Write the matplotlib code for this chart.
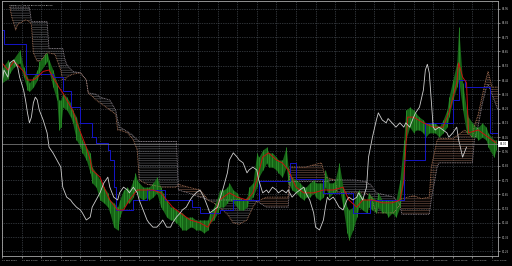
import matplotlib
matplotlib.use("Agg")
import matplotlib.pyplot as plt
import numpy as np

plt.rcParams['hatch.linewidth'] = 0.45

# ---------------- data (hourly bar index, price) ----------------
price_bar = [0,3,4,6,9,11,13,14,16,18,
             19,22,23,24,26,28,29,30,31,33,
             35,36,38,40,41,43,45,46,48,50,
             52,54,55,57,59,60,62,64,65,67,
             68,69,70,72,74,75,77,79,81,82,
             84,86,87,89,91,92,94,96,97,99,
             101,103,105,106,108,110,111,113,115,116,
             118,120,121,123,125,126,128,130,131,133,
             135,136,138,140,141,143,145,146,148,150,
             152,154,155,157,159,160,162,164,165,167,
             169,170,172,174,176,177,179,181,182,184,
             186,187,189,191,192,194,196,197,199,201,
             203,205,206,208,210,211,213,215,216,218,
             220,221,223,225,227,228,230,232,233,235,
             237,238,240,242,243,245,247,248,251,252]
price_high = [82.53,82.59,82.57,82.60,82.66,82.54,82.47,82.43,82.47,82.52,
              82.58,82.63,82.64,82.59,82.52,82.43,82.31,82.31,82.36,82.33,
              82.29,82.24,82.19,82.08,82.03,81.98,81.94,81.84,81.80,81.75,
              81.70,81.66,81.61,81.59,81.56,81.61,81.68,81.70,81.68,81.75,
              81.80,81.75,81.73,81.70,81.70,81.70,81.73,81.77,81.70,81.66,
              81.61,81.56,81.56,81.54,81.52,81.52,81.49,81.49,81.49,81.47,
              81.47,81.47,81.47,81.52,81.56,81.63,81.68,81.68,81.70,81.73,
              81.68,81.66,81.63,81.61,81.63,81.70,81.73,81.94,81.91,81.96,
              81.98,81.94,81.94,81.91,81.89,81.89,81.98,81.84,81.77,81.75,
              81.73,81.70,81.70,81.73,81.75,81.73,81.73,81.73,81.82,81.73,
              81.73,81.75,81.87,81.70,81.56,81.54,81.56,81.66,81.68,81.63,
              81.61,81.66,81.63,81.61,81.66,81.61,81.61,81.61,81.61,81.61,
              81.75,82.03,82.24,82.26,82.24,82.22,82.19,82.17,82.15,82.15,
              82.15,82.15,82.12,82.17,82.24,82.33,82.45,82.57,82.82,82.43,
              82.24,82.19,82.15,82.12,82.12,82.15,82.12,82.08,82.03,82.03]
price_low = [82.43,82.46,82.50,82.54,82.57,82.47,82.38,82.37,82.40,82.45,
             82.50,82.56,82.58,82.51,82.40,82.31,82.10,82.12,82.26,82.24,
             82.19,82.15,82.03,81.98,81.94,81.89,81.80,81.73,81.70,81.61,
             81.59,81.56,81.52,81.42,81.40,81.49,81.56,81.59,81.59,81.63,
             81.68,81.66,81.63,81.61,81.63,81.61,81.63,81.66,81.56,81.54,
             81.49,81.47,81.47,81.45,81.42,81.40,81.40,81.42,81.42,81.40,
             81.40,81.38,81.40,81.45,81.47,81.52,81.56,81.56,81.59,81.61,
             81.59,81.56,81.54,81.54,81.56,81.61,81.63,81.70,81.77,81.82,
             81.87,81.84,81.84,81.82,81.80,81.77,81.84,81.73,81.68,81.66,
             81.63,81.61,81.63,81.63,81.66,81.63,81.61,81.63,81.70,81.63,
             81.66,81.66,81.70,81.56,81.38,81.33,81.40,81.49,81.56,81.54,
             81.52,81.56,81.54,81.52,81.56,81.52,81.52,81.49,81.52,81.49,
             81.56,81.75,82.03,82.12,82.08,82.10,82.10,82.08,82.05,82.08,
             82.08,82.08,82.05,82.08,82.12,82.19,82.31,82.40,82.45,82.24,
             82.08,82.08,82.05,82.05,82.03,82.05,82.03,81.98,81.91,81.96]

tenkan_bar = [0,3,6,9,11,13,16,18,21,24,26,29,31,33,36,39,41,43,45,46,
              50,52,55,59,62,65,69,72,77,81,84,87,91,96,101,105,108,111,116,120,
              125,128,130,133,136,140,143,146,150,154,159,164,169,174,177,181,184,189,194,199,
              203,205,206,207,210,215,220,225,228,232,233,235,237,238,243,248,252]
tenkan = [82.57,82.52,82.58,82.54,82.51,82.45,82.45,82.47,82.51,82.52,
          82.47,82.40,82.36,82.31,82.24,82.12,82.05,81.98,81.89,81.82,
          81.77,81.70,81.61,81.54,81.54,81.61,81.68,81.68,81.68,81.66,
          81.61,81.56,81.52,81.47,81.45,81.42,81.49,81.61,81.66,81.63,
          81.61,81.66,81.75,81.91,81.94,81.89,81.87,81.82,81.70,81.66,
          81.66,81.68,81.68,81.70,81.61,81.56,81.61,81.61,81.59,81.59,
          81.61,81.75,81.98,82.19,82.19,82.15,82.12,82.12,82.22,82.43,
          82.57,82.47,82.43,82.08,82.10,82.05,82.01]

kijun_bar = [0,1,12,26,31,35,40,46,48,54,
             55,57,58,67,74,83,97,101,111,118,
             131,147,150,164,179,188,205,216,230,233,
             236,249,253]
kijun = [82.80,82.70,82.49,82.47,82.37,82.26,82.15,82.05,82.01,81.96,
         81.89,81.70,81.54,81.61,81.68,81.61,81.56,81.52,81.54,81.61,
         81.74,81.87,81.76,81.66,81.52,81.61,81.89,82.15,82.31,82.45,
         82.40,82.08,82.03]

chikou_bar = [0,1,3,4,6,8,9,11,12,13, 14,15,16,17,18,19,21,23,24,26,
              28,30,31,33,35,36,38,40,41,43, 45,46,48,50,52,54,55,57,59,60,
              62,64,65,67,69,70,72,74,75,77, 79,81,82,84,86,87,89,91,92,94,
              96,97,99,101,103,105,106,108,110,111, 113,115,116,118,120,121,123,125,126,128,
              130,131,133,135,136,138,140,141,143,145, 146,148,150,152,154,155,157,159,160,162,
              164,165,166,167,169,170,172,174,176,177, 179,181,182,184,186,187,189,191,192,194,
              196,197,199,201,203,205,206,208,210,211, 213,215,216,217,218,219,220,221,223,225,
              227,228,230,232,233,235,237]
chikou = [82.43,82.52,82.47,82.57,82.59,82.54,82.47,82.38,82.31,82.22,
          82.15,82.19,82.29,82.33,82.31,82.24,82.17,82.08,81.98,81.94,
          81.89,81.84,81.70,81.63,81.61,81.59,81.56,81.54,81.52,81.47,
          81.49,81.56,81.61,81.66,81.73,81.77,81.70,81.63,81.61,81.66,
          81.70,81.68,81.66,81.70,81.66,81.61,81.54,81.47,81.45,81.42,
          81.42,81.45,81.47,81.42,81.42,81.45,81.49,81.52,81.54,81.56,
          81.61,81.63,81.66,81.68,81.63,81.56,81.52,81.54,81.56,81.61,
          81.70,81.80,81.89,81.94,81.91,81.89,81.87,81.80,81.82,81.84,
          81.82,81.75,81.66,81.68,81.66,81.70,81.68,81.66,81.68,81.66,
          81.68,81.63,81.66,81.68,81.70,81.66,81.61,81.52,81.42,81.40,
          81.47,81.56,81.63,81.61,81.63,81.61,81.56,81.54,81.61,81.63,
          81.61,81.63,81.66,81.61,81.70,81.91,82.05,82.17,82.22,82.17,
          82.15,82.18,82.15,82.12,82.15,82.12,82.15,82.12,82.19,82.22,
          82.26,82.38,82.52,82.56,82.50,82.31,82.12,82.10,82.12,82.10,
          82.08,82.05,82.08,82.12,82.03,81.91,81.98]

cloud_bar = [4,5,7,8,12,14,15,16,18,20, 23,24,27,30,31,32,33,36,40,43,
             44,48,50,55,58,59,60,64,67,69, 70,74,82,89,90,95,101,104,105,108,
             111,115,118,121,125,128,130,135,140,146, 147,155,160,163,165,170,171,180,185,188,
             191,200,203,204,210,214,218,219,222,223, 230,236,240,241,243,245,247,248,250,253]
span_a = [82.96,82.89,82.80,82.84,82.87,82.86,82.84,82.64,82.58,82.59,
          82.64,82.64,82.63,82.52,82.45,82.45,82.47,82.49,82.50,82.45,
          82.36,82.31,82.29,82.24,82.21,82.10,82.10,82.08,82.03,81.96,
          81.75,81.72,81.70,81.70,81.72,81.70,81.68,81.63,81.61,81.59,
          81.56,81.51,81.45,81.44,81.47,81.56,81.60,81.63,81.63,81.63,
          81.84,81.84,81.86,81.87,81.77,81.75,81.66,81.66,81.66,81.64,
          81.52,81.52,81.58,81.62,81.64,81.62,81.63,81.84,82.03,82.04,
          82.04,82.10,82.05,82.13,82.21,82.34,82.46,82.51,82.40,82.40]
span_b = [82.96,82.96,82.96,82.96,82.96,82.96,82.86,82.86,82.86,82.86,
          82.86,82.67,82.67,82.67,82.67,82.60,82.56,82.51,82.50,82.45,
          82.36,82.35,82.33,82.31,82.24,82.17,82.12,82.09,82.06,82.03,
          82.02,82.02,82.02,82.02,81.68,81.66,81.63,81.62,81.61,81.61,
          81.61,81.61,81.61,81.61,81.61,81.61,81.60,81.56,81.56,81.56,
          81.74,81.74,81.74,81.74,81.74,81.75,81.75,81.75,81.74,81.72,
          81.66,81.63,81.58,81.51,81.51,81.51,81.51,81.61,81.84,81.87,
          81.87,81.87,81.87,82.03,82.13,82.28,82.39,82.42,82.35,82.24]

price_ticks = [82.95, 82.85, 82.75, 82.65, 82.55, 82.45, 82.35, 82.25, 82.15,
               82.05, 81.95, 81.85, 81.75, 81.65, 81.55, 81.45, 81.35, 81.25]
time_tick_bars = list(range(0, 251, 10))
time_labels = ["21 Feb 2013", "21 Feb 14:00", "22 Feb 00:00", "22 Feb 10:00", "22 Feb 20:00",
               "25 Feb 06:00", "25 Feb 16:00", "26 Feb 02:00", "26 Feb 12:00", "26 Feb 22:00",
               "27 Feb 08:00", "27 Feb 18:00", "28 Feb 04:00", "28 Feb 14:00", "1 Mar 00:00",
               "1 Mar 10:00", "1 Mar 20:00", "4 Mar 06:00", "4 Mar 16:00", "5 Mar 02:00",
               "5 Mar 12:00", "5 Mar 22:00", "6 Mar 08:00", "6 Mar 18:00", "7 Mar 04:00",
               "7 Mar 14:00"]
bid_price = 82.00
title_text = "USDJPY,H1  82.03 82.04 81.99 82.00"

# ---------------- figure ----------------
fig = plt.figure(figsize=(5.12, 2.66), dpi=100, facecolor="black")
ax = fig.add_axes([2/512, 10/266, 496/512, 255/266])
ax.set_facecolor("black")
ax.set_xlim(0, 253.06)
ax.set_ylim(81.218, 83.003)

ax.set_axisbelow(True)
ax.grid(True, color="#5a616a", linestyle=(0, (1, 1.5)), linewidth=0.5)

# cloud
cb = np.array(cloud_bar, float)
sa = np.array(span_a)
sb = np.array(span_b)
ax.fill_between(cb, sa, sb, where=sa >= sb, interpolate=True, facecolor="none",
                edgecolor=(0.60, 0.42, 0.34, 0.75), hatch="-------", linewidth=0)
ax.fill_between(cb, sa, sb, where=sa < sb, interpolate=True, facecolor="none",
                edgecolor=(0.58, 0.58, 0.60, 0.6), hatch="-------", linewidth=0)
ax.plot(cb, sa, color="#b87c5c", lw=0.6, linestyle=(0, (1, 1)))
ax.plot(cb, sb, color="#9c929c", lw=0.6, linestyle=(0, (1, 1)))

# price bars
pb = np.array(price_bar, float)
ax.fill_between(pb, price_low, price_high, color="#176617", linewidth=0)
ax.vlines(pb, price_low, price_high, color="#2a8f2a", linewidth=0.6)

# indicator lines
ax.plot(kijun_bar, kijun, color="#1414c8", lw=0.7, drawstyle="steps-post")
ax.plot(tenkan_bar, tenkan, color="#c81010", lw=0.7)
ax.plot(chikou_bar, chikou, color="#cfcfcf", lw=0.6)

# bid line
ax.axhline(bid_price, color="#8a8a8a", lw=0.5)

# axes styling
for s in ax.spines.values():
    s.set_color("#a8a8a8")
    s.set_linewidth(0.6)
ax.yaxis.tick_right()
ax.set_yticks(price_ticks)
ax.set_yticklabels([f"{v:.2f}" for v in price_ticks])
ax.set_xticks(time_tick_bars)
ax.set_xticklabels(time_labels)
ax.tick_params(axis="y", colors="#d0d0d0", labelsize=1.8, length=1.5, width=0.4, pad=1)
ax.tick_params(axis="x", colors="#d0d0d0", labelsize=1.7, length=1.5, width=0.4, pad=1.2)
for lab in ax.get_xticklabels():
    lab.set_horizontalalignment("left")

ax.text(1.003, bid_price, f"{bid_price:.2f}", transform=ax.get_yaxis_transform(),
        fontsize=1.8, color="black", va="center", ha="left",
        bbox=dict(facecolor="white", edgecolor="none", pad=0.8))

fig.text(9/512, 1 - 5/266, title_text, fontsize=1.7, color="white", va="center", ha="left")

fig.savefig("out.png", dpi=100, facecolor="black")
